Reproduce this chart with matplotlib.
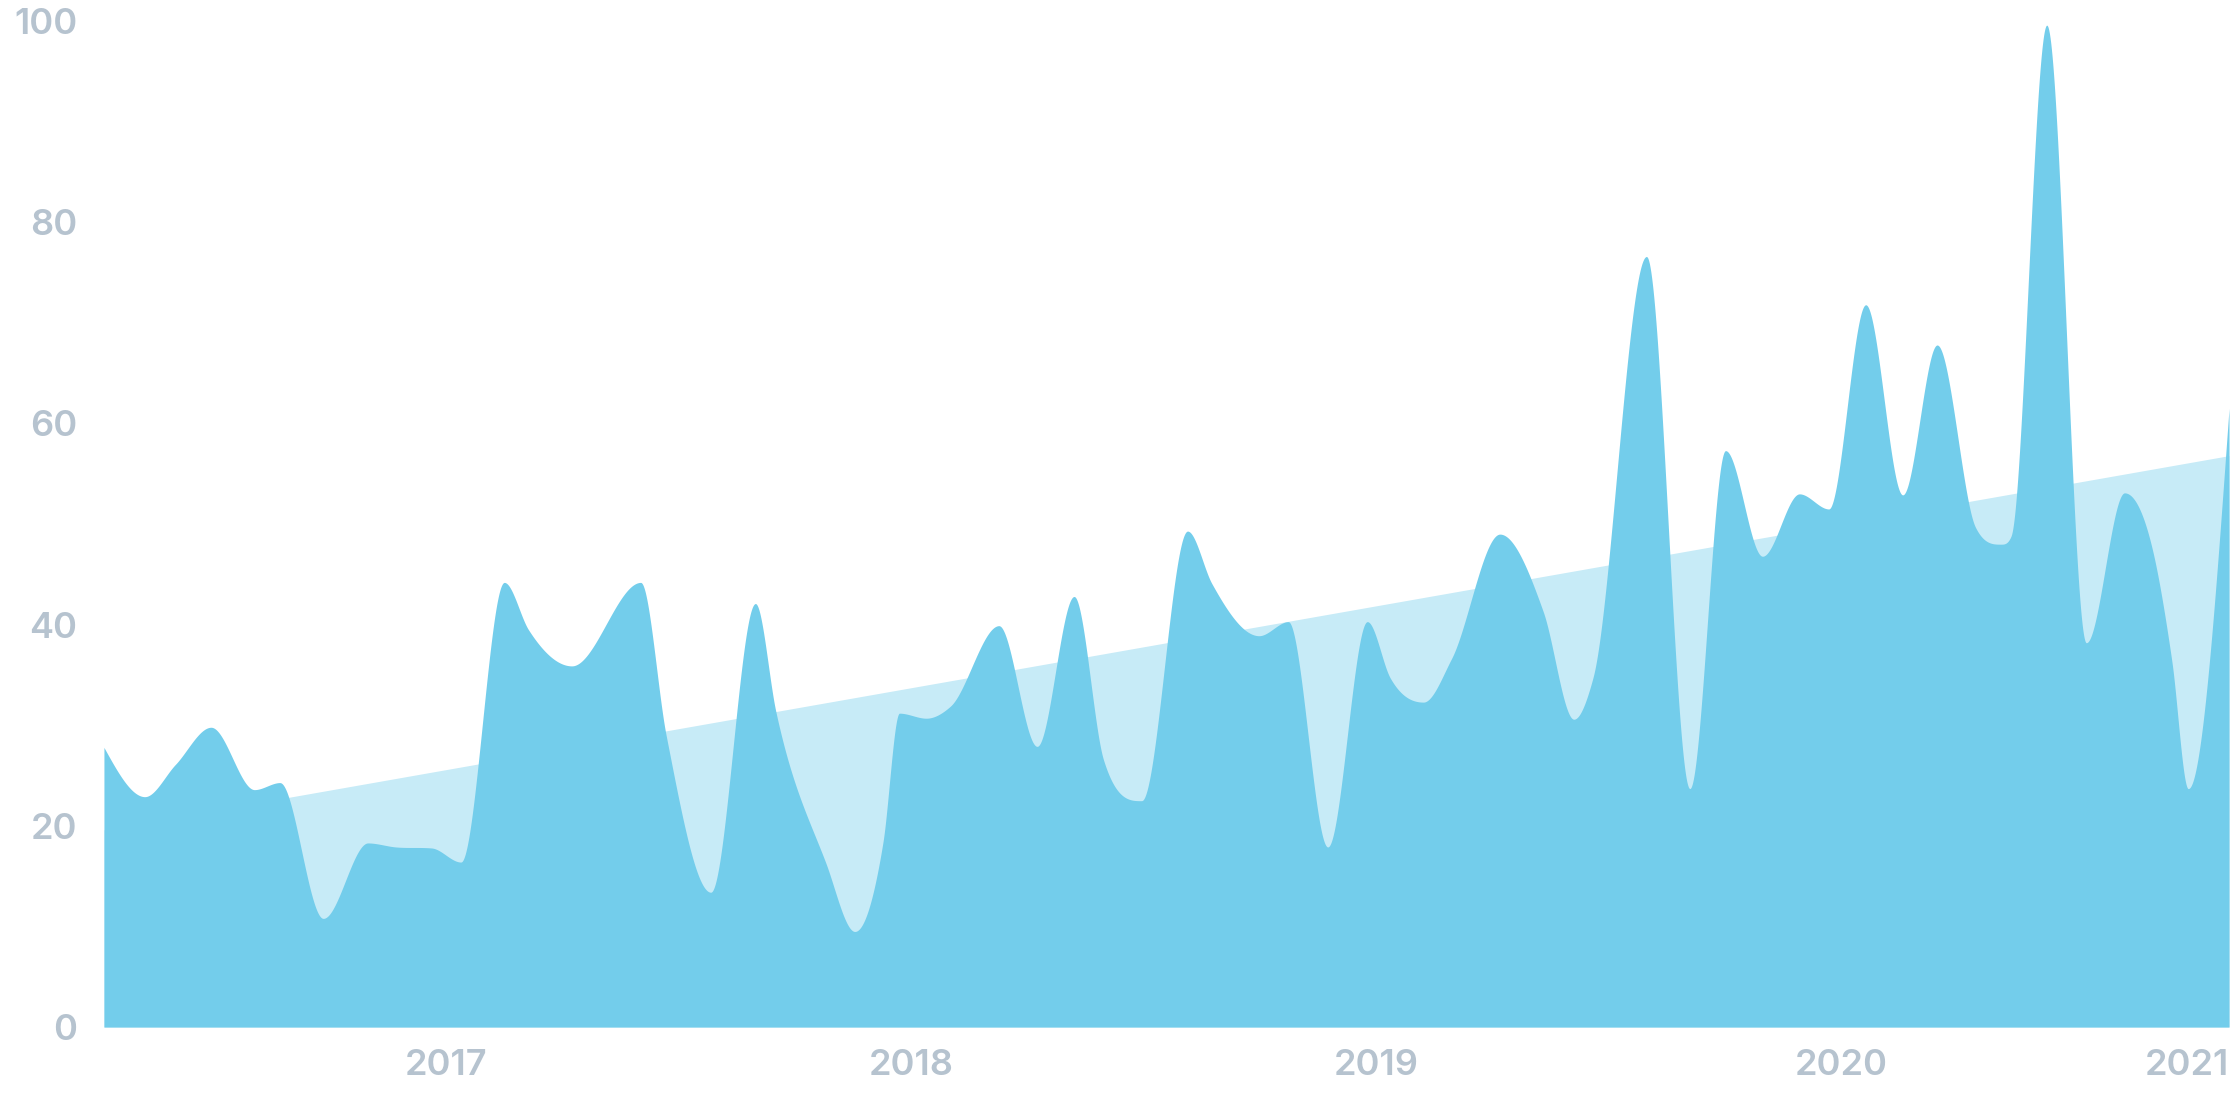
import numpy as np
import pandas as pd
import matplotlib
matplotlib.use("Agg")
import matplotlib.pyplot as plt
import matplotlib.dates as mdates

# nilai yang dibaca dari grafik
dates = [
    "2016-04-08", "2016-05-10", "2016-06-03", "2016-07-01", "2016-08-04",
    "2016-08-24", "2016-09-27", "2016-11-01", "2016-11-23", "2016-12-21",
    "2017-01-13", "2017-02-16", "2017-03-07", "2017-04-10", "2017-06-03",
    "2017-06-23", "2017-07-28", "2017-09-01", "2017-09-17", "2017-10-26",
    "2017-11-18", "2017-12-10", "2017-12-23", "2018-01-13", "2018-02-01",
    "2018-03-11", "2018-04-10", "2018-05-09", "2018-06-01", "2018-07-01",
    "2018-08-06", "2018-08-25", "2018-10-01", "2018-10-24", "2018-11-24",
    "2018-12-25", "2019-01-12", "2019-02-07", "2019-03-01", "2019-04-08",
    "2019-05-12", "2019-06-05", "2019-06-20", "2019-08-01", "2019-09-04",
    "2019-10-02", "2019-10-31", "2019-11-29", "2019-12-22", "2020-01-20",
    "2020-02-18", "2020-03-16", "2020-04-15", "2020-05-05", "2020-05-13",
    "2020-06-10", "2020-07-11", "2020-08-10", "2020-09-01", "2020-09-16",
    "2020-09-29", "2020-10-31",
]
values = [
    27.8, 22.9, 26.1, 29.8, 23.6,
    24.3, 10.8, 18.3, 17.9, 17.8,
    16.4, 44.2, 39.5, 35.9, 44.2,
    29.0, 13.4, 42.1, 31.4, 16.4,
    9.5, 18.3, 31.2, 30.7, 31.9,
    39.9, 27.9, 42.8, 26.6, 22.5,
    49.3, 44.1, 38.9, 40.3, 17.9,
    40.3, 34.7, 32.3, 36.6, 49.0,
    41.3, 30.6, 34.7, 76.6, 23.7,
    57.3, 46.8, 53.0, 51.5, 71.8,
    52.9, 67.8, 49.7, 48.0, 48.8,
    99.6, 38.2, 53.1, 47.4, 36.5,
    23.7, 61.5,
]

# garis tren (awal dan akhir)
trend_dates = ["2016-04-08", "2020-10-31"]
trend_values = [19.6, 56.8]

year_ticks = ["2017-01-01", "2018-01-01", "2019-01-01", "2020-01-01"]
year_labels = ["2017", "2018", "2019", "2020"]
last_label = "2021"
y_ticks = [0, 20, 40, 60, 80, 100]

FILL = "#73cdeb"
TREND = "#c7ebf7"
LABEL = "#b6c3cf"


def smooth_curve(x, y, n=60):
    """Kurva halus tanpa overshoot: datar di puncak/lembah"""
    x = np.asarray(x, float)
    y = np.asarray(y, float)
    h = np.diff(x)
    s = np.diff(y) / h
    t = np.zeros_like(y)
    for i in range(1, len(x) - 1):
        if np.sign(s[i - 1]) != np.sign(s[i]):
            continue  # puncak atau lembah
        p = (s[i - 1] * h[i] + s[i] * h[i - 1]) / (h[i - 1] + h[i])
        t[i] = np.sign(p) * min(abs(p), 3 * min(abs(s[i - 1]), abs(s[i])))
    t[0] = (3 * s[0] - t[1]) / 2
    t[-1] = (3 * s[-1] - t[-2]) / 2

    xs, ys = [], []
    u = np.linspace(0, 1, n)
    h00 = 2 * u**3 - 3 * u**2 + 1
    h10 = u**3 - 2 * u**2 + u
    h01 = -2 * u**3 + 3 * u**2
    h11 = u**3 - u**2
    for i in range(len(x) - 1):
        xs.append(x[i] + u * h[i])
        ys.append(h00 * y[i] + h10 * h[i] * t[i] + h01 * y[i + 1] + h11 * h[i] * t[i + 1])
    return np.concatenate(xs), np.concatenate(ys)


x_num = mdates.date2num(pd.to_datetime(dates))
trend_num = mdates.date2num(pd.to_datetime(trend_dates))
cx, cy = smooth_curve(x_num, values)

plt.rcParams["font.family"] = ["Inter", "DejaVu Sans"]

fig = plt.figure(figsize=(11.2, 5.6), dpi=200)
ax = fig.add_axes([0.0464, 0.083, 0.9487, 0.8982])

ax.fill_between(trend_num, 0, trend_values, color=TREND, linewidth=0, zorder=1)
ax.fill_between(cx, 0, cy, color=FILL, linewidth=0, zorder=2)

ax.set_xlim(x_num[0], x_num[-1])
ax.set_ylim(0, 100)

tick_pos = list(mdates.date2num(pd.to_datetime(year_ticks))) + [x_num[-1]]
ax.set_xticks(tick_pos)
ax.set_xticklabels(year_labels + [last_label])
ax.set_yticks(y_ticks)
ax.set_yticklabels([str(v) for v in y_ticks])

ax.tick_params(axis="both", length=0, labelsize=13, labelcolor=LABEL)
ax.tick_params(axis="x", pad=8)
ax.tick_params(axis="y", pad=9.5)
for lbl in ax.get_xticklabels() + ax.get_yticklabels():
    lbl.set_fontweight(600)
ax.get_xticklabels()[-1].set_horizontalalignment("right")

for sp in ax.spines.values():
    sp.set_visible(False)

fig.savefig("out.png", dpi=200, facecolor="white")
